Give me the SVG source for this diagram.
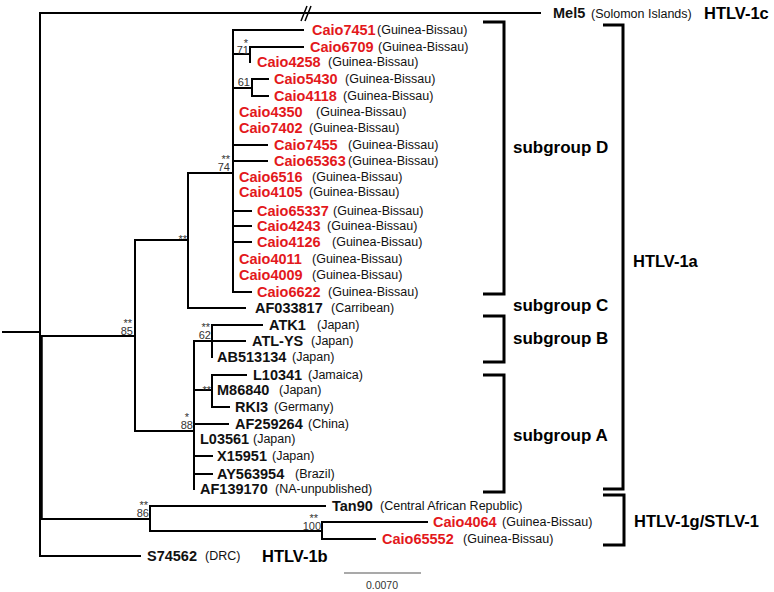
<svg xmlns="http://www.w3.org/2000/svg" width="774" height="592" viewBox="0 0 774 592">
<style>
.br{fill:none;stroke:#000;stroke-width:2;stroke-linecap:square}
.bk{fill:none;stroke:#000;stroke-width:3}
.n{font-family:"Liberation Sans",Arial,sans-serif;font-weight:bold;font-size:14.5px}
.r{fill:#e3191c}
.k{fill:#111}
.p{font-family:"Liberation Sans",Arial,sans-serif;font-size:12.5px;fill:#111}
.g{font-family:"Liberation Sans",Arial,sans-serif;font-weight:bold;font-size:17px;fill:#000}
.h{font-family:"Liberation Sans",Arial,sans-serif;font-weight:bold;font-size:16.5px;fill:#000}
.b{font-family:"Liberation Sans",Arial,sans-serif;font-size:11px;fill:#333;text-anchor:end}
</style>
<rect width="774" height="592" fill="#fff"/>
<g id="connectors">
<path class="br" d="M3,332H40M40,13V556M40,13H540M40,336H135M40,519H150M40,556H140"/>
<path d="M41,336V519" stroke="#000" stroke-width="3.5" fill="none"/>
<path d="M301,21L307,6M305,21L311,6" stroke="#000" stroke-width="1.5" fill="none"/>
<path class="br" d="M135,240V431M135,240H188M135,431H194"/>
<path class="br" d="M188,173V308M188,173H233M188,308H245"/>
<path class="br" d="M233,30V292M233,30H303M233,54H250M250,47V62M250,47H303M233,88H252M252,79V96M252,79H268M252,96H268M233,145H267M233,161H267M233,211H251M233,226H251M233,242H251M233,292H251"/>
<path class="br" d="M194,341V489M194,341H245M212,325V357M212,325H262M194,390H212M212,375V407M212,375H246M212,407H229M194,424H228M194,456H212M194,474H212"/>
<path class="br" d="M150,506V531M150,506H325M150,531H322M322,522V539M322,522H427M322,539H375"/>
</g>
<g id="support">
<text class="b"><tspan x="248" y="47">*</tspan><tspan x="249" y="54">71</tspan></text>
<text class="b" x="250" y="86">61</text>
<text class="b"><tspan x="230" y="163">**</tspan><tspan x="230" y="171">74</tspan></text>
<text class="b" x="187" y="243">**</text>
<text class="b"><tspan x="132" y="327">**</tspan><tspan x="133" y="335">85</tspan></text>
<text class="b"><tspan x="210" y="331">**</tspan><tspan x="211" y="339">62</tspan></text>
<text class="b" x="211" y="394">**</text>
<text class="b"><tspan x="189" y="421">*</tspan><tspan x="193" y="429">88</tspan></text>
<text class="b"><tspan x="148" y="509">**</tspan><tspan x="149" y="517">86</tspan></text>
<text class="b"><tspan x="318" y="522">**</tspan><tspan x="321" y="530">100</tspan></text>
</g>
<g id="Mel5"><text class="n k" x="553" y="18">Mel5</text><text class="p" x="591" y="18">(Solomon Islands)</text></g>
<g id="Caio7451"><text class="n r" x="312" y="35">Caio7451</text><text class="p" x="377" y="34">(Guinea-Bissau)</text></g>
<g id="Caio6709"><text class="n r" x="310" y="52">Caio6709</text><text class="p" x="378" y="51">(Guinea-Bissau)</text></g>
<g id="Caio4258"><text class="n r" x="257" y="67">Caio4258</text><text class="p" x="328" y="66">(Guinea-Bissau)</text></g>
<g id="Caio5430"><text class="n r" x="274" y="84">Caio5430</text><text class="p" x="345" y="83">(Guinea-Bissau)</text></g>
<g id="Caio4118"><text class="n r" x="274" y="101">Caio4118</text><text class="p" x="343" y="100">(Guinea-Bissau)</text></g>
<g id="Caio4350"><text class="n r" x="239" y="117">Caio4350</text><text class="p" x="316" y="116">(Guinea-Bissau)</text></g>
<g id="Caio7402"><text class="n r" x="239" y="133">Caio7402</text><text class="p" x="309" y="132">(Guinea-Bissau)</text></g>
<g id="Caio7455"><text class="n r" x="274" y="150">Caio7455</text><text class="p" x="348" y="149">(Guinea-Bissau)</text></g>
<g id="Caio65363"><text class="n r" x="274" y="166">Caio65363</text><text class="p" x="348" y="165">(Guinea-Bissau)</text></g>
<g id="Caio6516"><text class="n r" x="239" y="182">Caio6516</text><text class="p" x="312" y="181">(Guinea-Bissau)</text></g>
<g id="Caio4105"><text class="n r" x="239" y="197">Caio4105</text><text class="p" x="309" y="196">(Guinea-Bissau)</text></g>
<g id="Caio65337"><text class="n r" x="257" y="216">Caio65337</text><text class="p" x="333" y="215">(Guinea-Bissau)</text></g>
<g id="Caio4243"><text class="n r" x="257" y="231">Caio4243</text><text class="p" x="327" y="230">(Guinea-Bissau)</text></g>
<g id="Caio4126"><text class="n r" x="257" y="247">Caio4126</text><text class="p" x="332" y="246">(Guinea-Bissau)</text></g>
<g id="Caio4011"><text class="n r" x="239" y="264">Caio4011</text><text class="p" x="312" y="263">(Guinea-Bissau)</text></g>
<g id="Caio4009"><text class="n r" x="239" y="280">Caio4009</text><text class="p" x="312" y="279">(Guinea-Bissau)</text></g>
<g id="Caio6622"><text class="n r" x="257" y="297">Caio6622</text><text class="p" x="328" y="296">(Guinea-Bissau)</text></g>
<g id="AF033817"><text class="n k" x="255" y="313">AF033817</text><text class="p" x="331" y="312">(Carribean)</text></g>
<g id="ATK1"><text class="n k" x="269" y="330">ATK1</text><text class="p" x="317" y="329">(Japan)</text></g>
<g id="ATL-YS"><text class="n k" x="252" y="346">ATL-YS</text><text class="p" x="311" y="345">(Japan)</text></g>
<g id="AB513134"><text class="n k" x="217" y="362">AB513134</text><text class="p" x="292" y="361">(Japan)</text></g>
<g id="L10341"><text class="n k" x="253" y="380">L10341</text><text class="p" x="308" y="379">(Jamaica)</text></g>
<g id="M86840"><text class="n k" x="217" y="395">M86840</text><text class="p" x="279" y="394">(Japan)</text></g>
<g id="RKI3"><text class="n k" x="235" y="412">RKI3</text><text class="p" x="274" y="411">(Germany)</text></g>
<g id="AF259264"><text class="n k" x="235" y="429">AF259264</text><text class="p" x="308" y="428">(China)</text></g>
<g id="L03561"><text class="n k" x="200" y="444">L03561</text><text class="p" x="253" y="443">(Japan)</text></g>
<g id="X15951"><text class="n k" x="217" y="461">X15951</text><text class="p" x="272" y="460">(Japan)</text></g>
<g id="AY563954"><text class="n k" x="217" y="479">AY563954</text><text class="p" x="295" y="478">(Brazil)</text></g>
<g id="AF139170"><text class="n k" x="200" y="494">AF139170</text><text class="p" x="275" y="493">(NA-unpublished)</text></g>
<g id="Tan90"><text class="n k" x="332" y="511">Tan90</text><text class="p" x="380" y="510">(Central African Republic)</text></g>
<g id="Caio4064"><text class="n r" x="433" y="527">Caio4064</text><text class="p" x="502" y="526">(Guinea-Bissau)</text></g>
<g id="Caio65552"><text class="n r" x="382" y="544">Caio65552</text><text class="p" x="463" y="543">(Guinea-Bissau)</text></g>
<g id="S74562"><text class="n k" x="147" y="561">S74562</text><text class="p" x="205" y="560">(DRC)</text></g>
<g id="brackets">
<path class="bk" d="M483,22H504V294H483"/>
<path class="bk" d="M483,316H504V362H483"/>
<path class="bk" d="M483,375H504V492H483"/>
<path class="bk" d="M603,25H623V489H603"/>
<path class="bk" d="M603,495H624V545H603"/>
</g>
<g id="group-labels">
<text class="g" x="513" y="153">subgroup D</text>
<text class="g" x="513" y="311">subgroup C</text>
<text class="g" x="513" y="344">subgroup B</text>
<text class="g" x="513" y="441">subgroup A</text>
<text class="h" x="704" y="19">HTLV-1c</text>
<text class="h" x="633" y="267">HTLV-1a</text>
<text class="h" x="634" y="527">HTLV-1g/STLV-1</text>
<text class="h" x="262" y="562">HTLV-1b</text>
</g>
<g id="scale">
<path d="M344,573H421" stroke="#555" stroke-width="1.2"/>
<text x="382" y="589" font-family="Liberation Sans,Arial,sans-serif" font-size="10.5" fill="#333" text-anchor="middle">0.0070</text>
</g>
</svg>
